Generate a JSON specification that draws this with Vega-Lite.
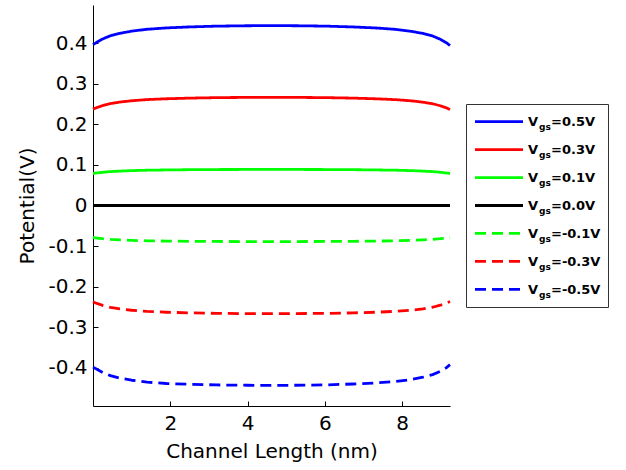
{
  "$schema": "https://vega.github.io/schema/vega-lite/v6.json",
  "background": "white",
  "padding": {"left": 17, "top": 5, "right": 5, "bottom": 5},
  "config": {
    "font": "DejaVu Sans",
    "view": {"stroke": null},
    "axis": {
      "grid": false,
      "domainColor": "black",
      "domainWidth": 1,
      "tickColor": "black",
      "tickWidth": 1,
      "tickSize": -5,
      "labelColor": "black",
      "labelFont": "DejaVu Sans",
      "labelFontSize": 20,
      "titleColor": "black",
      "titleFont": "DejaVu Sans",
      "titleFontSize": 20,
      "titleFontWeight": "normal"
    }
  },
  "datasets": {
    "curves": [
      {"x": 0.0,  "p5": 0.397,  "p3": 0.238,  "p1": 0.079,  "z0": 0, "m1": -0.079,  "m3": -0.238,  "m5": -0.399},
      {"x": 0.1,  "p5": 0.4031, "p3": 0.2418, "p1": 0.0803, "z0": 0, "m1": -0.0803, "m3": -0.2418, "m5": -0.4041},
      {"x": 0.25, "p5": 0.4111, "p3": 0.2467, "p1": 0.082,  "z0": 0, "m1": -0.082,  "m3": -0.2467, "m5": -0.4121},
      {"x": 0.45, "p5": 0.4191, "p3": 0.2516, "p1": 0.0837, "z0": 0, "m1": -0.0837, "m3": -0.2516, "m5": -0.4201},
      {"x": 0.7,  "p5": 0.4252, "p3": 0.2554, "p1": 0.085,  "z0": 0, "m1": -0.085,  "m3": -0.2554, "m5": -0.4262},
      {"x": 1.0,  "p5": 0.4304, "p3": 0.2586, "p1": 0.0861, "z0": 0, "m1": -0.0861, "m3": -0.2586, "m5": -0.4314},
      {"x": 1.4,  "p5": 0.4351, "p3": 0.2615, "p1": 0.0871, "z0": 0, "m1": -0.0871, "m3": -0.2615, "m5": -0.4361},
      {"x": 1.9,  "p5": 0.4384, "p3": 0.2635, "p1": 0.0878, "z0": 0, "m1": -0.0878, "m3": -0.2635, "m5": -0.4394},
      {"x": 2.5,  "p5": 0.4409, "p3": 0.2651, "p1": 0.0884, "z0": 0, "m1": -0.0884, "m3": -0.2651, "m5": -0.4414},
      {"x": 3.2,  "p5": 0.4428, "p3": 0.2663, "p1": 0.0888, "z0": 0, "m1": -0.0888, "m3": -0.2663, "m5": -0.4430},
      {"x": 4.0,  "p5": 0.4438, "p3": 0.2669, "p1": 0.089,  "z0": 0, "m1": -0.089,  "m3": -0.2669, "m5": -0.4438},
      {"x": 4.62, "p5": 0.444,  "p3": 0.267,  "p1": 0.089,  "z0": 0, "m1": -0.089,  "m3": -0.267,  "m5": -0.444},
      {"x": 5.24, "p5": 0.4438, "p3": 0.2669, "p1": 0.089,  "z0": 0, "m1": -0.089,  "m3": -0.2669, "m5": -0.4438},
      {"x": 6.04, "p5": 0.4428, "p3": 0.2663, "p1": 0.0888, "z0": 0, "m1": -0.0888, "m3": -0.2663, "m5": -0.4428},
      {"x": 6.74, "p5": 0.4408, "p3": 0.2651, "p1": 0.0884, "z0": 0, "m1": -0.0884, "m3": -0.2651, "m5": -0.4407},
      {"x": 7.34, "p5": 0.4382, "p3": 0.2634, "p1": 0.0878, "z0": 0, "m1": -0.0878, "m3": -0.2634, "m5": -0.4380},
      {"x": 7.84, "p5": 0.4348, "p3": 0.2613, "p1": 0.0871, "z0": 0, "m1": -0.0871, "m3": -0.2613, "m5": -0.4345},
      {"x": 8.24, "p5": 0.4300, "p3": 0.2584, "p1": 0.0861, "z0": 0, "m1": -0.0861, "m3": -0.2584, "m5": -0.4296},
      {"x": 8.54, "p5": 0.4247, "p3": 0.2551, "p1": 0.085,  "z0": 0, "m1": -0.085,  "m3": -0.2551, "m5": -0.4240},
      {"x": 8.79, "p5": 0.4185, "p3": 0.2512, "p1": 0.0837, "z0": 0, "m1": -0.0837, "m3": -0.2512, "m5": -0.4176},
      {"x": 8.99, "p5": 0.4103, "p3": 0.2462, "p1": 0.082,  "z0": 0, "m1": -0.082,  "m3": -0.2462, "m5": -0.4092},
      {"x": 9.14, "p5": 0.4022, "p3": 0.2412, "p1": 0.0803, "z0": 0, "m1": -0.0803, "m3": -0.2412, "m5": -0.4008},
      {"x": 9.24, "p5": 0.395,  "p3": 0.237,  "p1": 0.079,  "z0": 0, "m1": -0.079,  "m3": -0.237,  "m5": -0.393}
    ],
    "entries": [
      {"series": "p5", "label": "=0.5V"},
      {"series": "p3", "label": "=0.3V"},
      {"series": "p1", "label": "=0.1V"},
      {"series": "z0", "label": "=0.0V"},
      {"series": "m1", "label": "=-0.1V"},
      {"series": "m3", "label": "=-0.3V"},
      {"series": "m5", "label": "=-0.5V"}
    ]
  },
  "hconcat": [
    {
      "width": 357,
      "height": 401,
      "data": {"name": "curves"},
      "transform": [
        {"fold": ["p5", "p3", "p1", "z0", "m1", "m3", "m5"], "as": ["series", "potential"]}
      ],
      "mark": {"type": "line", "strokeWidth": 2.8, "strokeCap": "butt", "strokeJoin": "round"},
      "encoding": {
        "x": {
          "field": "x",
          "type": "quantitative",
          "scale": {"domain": [0, 9.24], "nice": false, "zero": false},
          "axis": {"values": [2, 4, 6, 8], "format": "d", "title": "Channel Length (nm)", "labelPadding": 12, "titlePadding": 8}
        },
        "y": {
          "field": "potential",
          "type": "quantitative",
          "scale": {"domain": [-0.495, 0.495], "nice": false, "zero": false},
          "axis": {
            "values": [-0.4, -0.3, -0.2, -0.1, 0, 0.1, 0.2, 0.3, 0.4],
            "labelExpr": "datum.value === 0 ? '0' : (datum.value < 0 ? '-' : '') + format(abs(datum.value), '.1f')",
            "title": "Potential(V)",
            "labelPadding": 11,
            "titlePadding": 10
          }
        },
        "color": {
          "field": "series",
          "type": "nominal",
          "scale": {
            "domain": ["p5", "p3", "p1", "z0", "m1", "m3", "m5"],
            "range": ["#0000ff", "#ff0000", "#00ff00", "#000000", "#00ff00", "#ff0000", "#0000ff"]
          },
          "legend": null
        },
        "strokeDash": {
          "field": "series",
          "type": "nominal",
          "scale": {
            "domain": ["p5", "p3", "p1", "z0", "m1", "m3", "m5"],
            "range": [[1, 0], [1, 0], [1, 0], [1, 0], [11, 6], [11, 6], [11, 6]]
          },
          "legend": null
        }
      }
    },
    {
      "width": 142,
      "height": 203,
      "view": {"stroke": "#333333", "strokeWidth": 1, "fill": "white"},
      "data": {"name": "entries"},
      "encoding": {
        "y": {
          "field": "series",
          "type": "nominal",
          "scale": {"type": "point", "domain": ["p5", "p3", "p1", "z0", "m1", "m3", "m5"], "padding": 0.63},
          "axis": null
        }
      },
      "layer": [
        {
          "mark": {"type": "rule", "strokeWidth": 2.8, "strokeCap": "butt"},
          "encoding": {
            "x": {"datum": 9, "type": "quantitative", "scale": {"domain": [0, 142], "nice": false, "zero": false}, "axis": null},
            "x2": {"datum": 57},
            "color": {
              "field": "series",
              "type": "nominal",
              "scale": {
                "domain": ["p5", "p3", "p1", "z0", "m1", "m3", "m5"],
                "range": ["#0000ff", "#ff0000", "#00ff00", "#000000", "#00ff00", "#ff0000", "#0000ff"]
              },
              "legend": null
            },
            "strokeDash": {
              "field": "series",
              "type": "nominal",
              "scale": {
                "domain": ["p5", "p3", "p1", "z0", "m1", "m3", "m5"],
                "range": [[1, 0], [1, 0], [1, 0], [1, 0], [11, 6], [11, 6], [11, 6]]
              },
              "legend": null
            }
          }
        },
        {
          "mark": {"type": "text", "text": "V", "align": "left", "baseline": "alphabetic", "dy": 4.5, "fontSize": 13, "fontWeight": "bold", "font": "DejaVu Sans", "color": "black"},
          "encoding": {"x": {"datum": 62, "type": "quantitative"}}
        },
        {
          "mark": {"type": "text", "text": "gs", "align": "left", "baseline": "alphabetic", "dy": 8.5, "fontSize": 9, "fontWeight": "bold", "font": "DejaVu Sans", "color": "black"},
          "encoding": {"x": {"datum": 73, "type": "quantitative"}}
        },
        {
          "mark": {"type": "text", "align": "left", "baseline": "alphabetic", "dy": 4.5, "fontSize": 13, "fontWeight": "bold", "font": "DejaVu Sans", "color": "black"},
          "encoding": {
            "x": {"datum": 85, "type": "quantitative"},
            "text": {"field": "label", "type": "nominal"}
          }
        }
      ]
    }
  ],
  "spacing": 16,
  "bounds": "flush",
  "center": true
}
